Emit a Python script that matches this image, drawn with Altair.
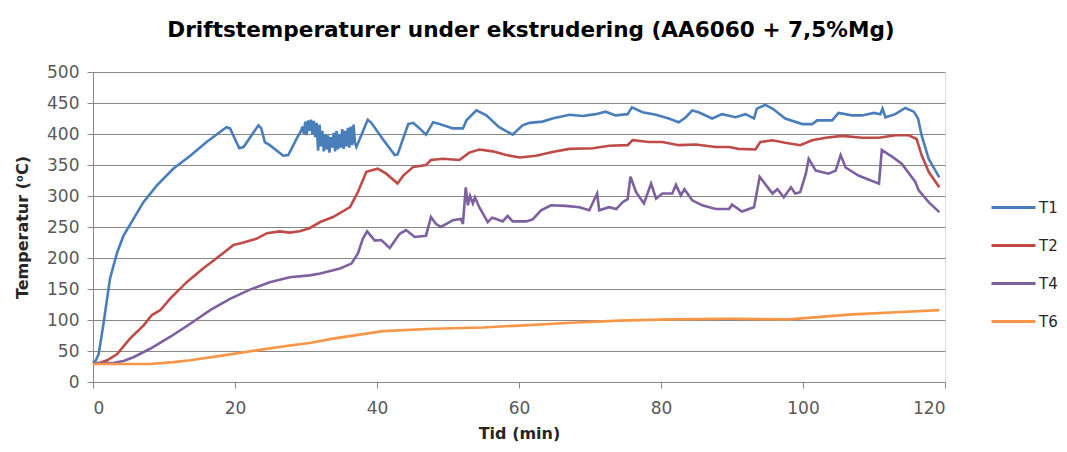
import altair as alt
import pandas as pd

# ---- data ----
t1_x = [0, 0.4, 0.8, 1.5, 2.4, 3.4, 4.3, 5.7, 7.1, 9.0, 11.3, 13.7, 16.0, 18.8, 19.3, 20.6, 21.2, 23.3, 23.7, 24.2,
        24.9, 26.8, 27.5, 28.7, 29.3, 29.5, 29.7, 29.9, 30.1, 30.3, 30.5, 30.7, 30.9, 31.1, 31.3, 31.5, 31.7, 31.9,
        32.1, 32.3, 32.5, 32.7, 32.9, 33.1, 33.3, 33.5, 33.7, 33.9, 34.1, 34.3, 34.5, 34.7, 34.9, 35.1, 35.3, 35.5,
        35.7, 35.9, 36.1, 36.3, 36.5, 36.7, 36.9, 37.1, 38.7, 39.2, 40.8, 42.5, 42.9, 44.4, 45.1, 46.0, 46.9, 47.9,
        48.8, 50.7, 52.1, 52.6, 54.0, 55.4, 57.2, 59.1, 60.5, 61.5, 63.3, 64.7, 67.1, 69.0, 70.8, 72.2, 73.6, 75.3,
        75.9, 77.4, 79.3, 81.1, 82.5, 83.5, 84.4, 85.3, 87.2, 88.6, 90.5, 91.9, 93.1, 93.5, 94.7, 95.7, 97.5, 99.9,
        101.3, 102.0, 104.1, 105.0, 106.9, 108.3, 110.0, 110.9, 111.2, 111.6, 113.0, 114.4, 115.6, 116.2, 116.7,
        117.7, 119.2]
t1_y = [30, 35, 45, 96, 167, 209, 236, 263, 290, 317, 344, 365, 387, 411, 409, 377, 379, 414, 409, 387,
        382, 365, 366, 393, 405, 412, 400, 420, 398, 422, 405, 423, 400, 421, 395, 418, 373, 415,
        380, 405, 372, 400, 375, 398, 370, 395, 378, 402, 372, 405, 375, 400, 378, 408, 376, 405,
        380, 410, 378, 412, 382, 415, 385, 379, 423, 418, 392, 366, 367, 416, 418, 409, 399, 419,
        416, 409, 409, 422, 438, 430, 411, 399, 414, 418, 420, 425, 431, 429, 432, 436, 430, 432,
        443, 435, 431, 425, 419, 427, 438, 435, 425, 432, 427, 432, 425, 441, 447, 441, 425, 416,
        416, 422, 422, 434, 430, 430, 434, 432, 441, 427, 432, 442, 436, 425, 398,
        360, 330]

t2_x = [0, 1, 2.0, 3.4, 5.2, 7.1, 8.3, 9.5, 10.9, 13.2, 15.5, 17.9, 19.8, 21.2, 23.0, 24.5, 26.3, 27.7, 29.1,
        30.5, 32.0, 33.8, 36.2, 37.3, 38.5, 40.1, 41.3, 42.9, 43.7, 45.1, 46.9, 47.6, 49.3, 51.6, 53.0, 54.4,
        56.3, 58.2, 60.1, 62.4, 64.7, 67.1, 70.4, 72.7, 75.3, 76.0, 78.3, 80.2, 82.5, 84.9, 87.7, 89.6, 90.9,
        93.3, 94.0, 95.7, 97.5, 99.6, 101.3, 103.2, 105.5, 108.3, 110.7, 113.0, 114.9, 116.0, 116.7, 117.7, 119.2]
t2_y = [30, 31, 35, 45, 70, 91, 108, 116, 135, 161, 183, 204, 221, 225, 231, 240, 243, 241, 243,
        248, 258, 266, 282, 306, 339, 344, 336, 320, 333, 347, 350, 358, 360, 358, 370, 375,
        372, 366, 362, 365, 371, 376, 377, 381, 382, 390, 387, 387, 382, 383, 379, 379, 376,
        375, 387, 390, 386, 382, 390, 394, 397, 394, 394, 398, 398, 392, 366, 339, 314]

t4_x = [0, 3, 4.3, 5.7, 8.1, 10.9, 13.7, 16.5, 19.3, 22.1, 24.9, 27.7, 30.5, 32.0, 34.8, 36.4, 37.3, 38.0, 38.6,
        39.7, 40.6, 41.8, 42.7, 43.2, 44.1, 45.3, 46.9, 47.6, 48.3, 49.0, 50.7, 51.8, 52.1, 52.5, 52.8, 53.1,
        53.5, 53.8, 54.4, 55.0, 55.6, 56.2, 56.8, 57.7, 58.4, 59.1, 61.0, 61.9, 63.1, 64.5, 66.6, 68.5, 69.9,
        71.0, 71.3, 72.7, 73.7, 74.6, 75.3, 75.7, 76.5, 77.6, 78.6, 79.3, 80.2, 81.6, 82.1, 82.8, 83.3, 84.4,
        85.8, 87.7, 89.6, 90.0, 91.4, 93.1, 93.9, 95.7, 96.4, 97.3, 98.3, 98.9, 99.6, 100.4, 100.8, 101.8,
        103.6, 104.6, 105.3, 106.0, 107.8, 110.7, 111.1, 112.6, 113.9, 115.8, 116.3, 117.7, 119.2]
t4_y = [30, 31, 34, 40, 54, 73, 94, 116, 134, 149, 161, 169, 172, 175, 183, 191, 207, 231, 243,
        228, 229, 216, 231, 239, 245, 234, 236, 266, 255, 250, 261, 263, 255, 314, 285, 300,
        288, 298, 282, 270, 258, 265, 263, 259, 268, 259, 259, 262, 277, 285, 284, 282, 277,
        304, 277, 282, 279, 290, 295, 331, 306, 288, 320, 296, 304, 304, 318, 301, 311, 293,
        285, 279, 279, 286, 275, 282, 331, 304, 311, 298, 314, 304, 306, 336, 360, 341,
        336, 341, 366, 346, 333, 320, 374, 363, 352, 323, 309, 290, 274]

t6_x = [0, 8, 11.3, 13.7, 18.4, 23.0, 27.7, 30.5, 33.8, 38.5, 40.8, 47.9, 54.9, 60.1, 68.0, 74.2, 81.1, 89.6,
        98.0, 106.9, 113.9, 119.2]
t6_y = [29, 29, 32, 35, 43, 51, 59, 63, 70, 78, 82, 86, 88, 91, 96, 99, 101, 102,
        101, 109, 113, 116]

series_names = ["T1", "T2", "T4", "T6"]
series_colors = ["#4A7EBB", "#BE4B48", "#7D60A0", "#F79646"]
x_ticks = [0, 20, 40, 60, 80, 100, 120]
y_ticks = [0, 50, 100, 150, 200, 250, 300, 350, 400, 450, 500]

frames = []
for name, xs, ys in zip(series_names, [t1_x, t2_x, t4_x, t6_x], [t1_y, t2_y, t4_y, t6_y]):
    frames.append(pd.DataFrame({"tid": xs, "temp": ys, "serie": name, "idx": range(len(xs))}))
df = pd.concat(frames, ignore_index=True)

FONT = "DejaVu Sans"
GRID = "#878787"

chart = alt.Chart(df).mark_line(strokeWidth=2.6).encode(
    x=alt.X("tid:Q",
            scale=alt.Scale(domain=[0, 120], nice=False),
            axis=alt.Axis(values=x_ticks, title="Tid (min)", grid=False,
                          domainColor=GRID, tickColor=GRID, tickSize=6,
                          labelFontSize=17, labelColor="#595959", labelFont=FONT, labelPadding=12,
                          titleFont=FONT, titleFontSize=16, titleFontWeight="bold", titleColor="#262626",
                          titlePadding=9)),
    y=alt.Y("temp:Q",
            scale=alt.Scale(domain=[0, 500], nice=False),
            axis=alt.Axis(values=y_ticks, title="Temperatur (⁰C)", grid=True, gridColor=GRID,
                          domainColor=GRID, tickColor=GRID, tickSize=6,
                          labelFontSize=17, labelColor="#595959", labelFont=FONT, labelPadding=8,
                          titleFont=FONT, titleFontSize=16, titleFontWeight="bold", titleColor="#262626",
                          titlePadding=16)),
    color=alt.Color("serie:N",
                    scale=alt.Scale(domain=series_names, range=series_colors),
                    legend=alt.Legend(title=None, orient="none", legendX=897, legendY=112,
                                      symbolType="stroke", symbolSize=1936, symbolStrokeWidth=3,
                                      labelFont=FONT, labelFontSize=15, labelColor="#262626",
                                      labelOffset=2, rowPadding=6, padding=0)),
    order=alt.Order("idx:Q"),
).properties(
    width=852,
    height=310,
    autosize=alt.AutoSizeParams(type="none"),
    padding={"left": 85, "top": 64, "right": 114, "bottom": 60},
    title=alt.TitleParams("Driftstemperaturer under ekstrudering (AA6060 + 7,5%Mg)",
                          font=FONT, fontSize=21.6, fontWeight="bold", color="#000000",
                          anchor="middle", dx=12, offset=21),
).configure_view(stroke=None).configure(background="white")

chart.save("out.html", embed_options={"renderer": "svg", "actions": False})
